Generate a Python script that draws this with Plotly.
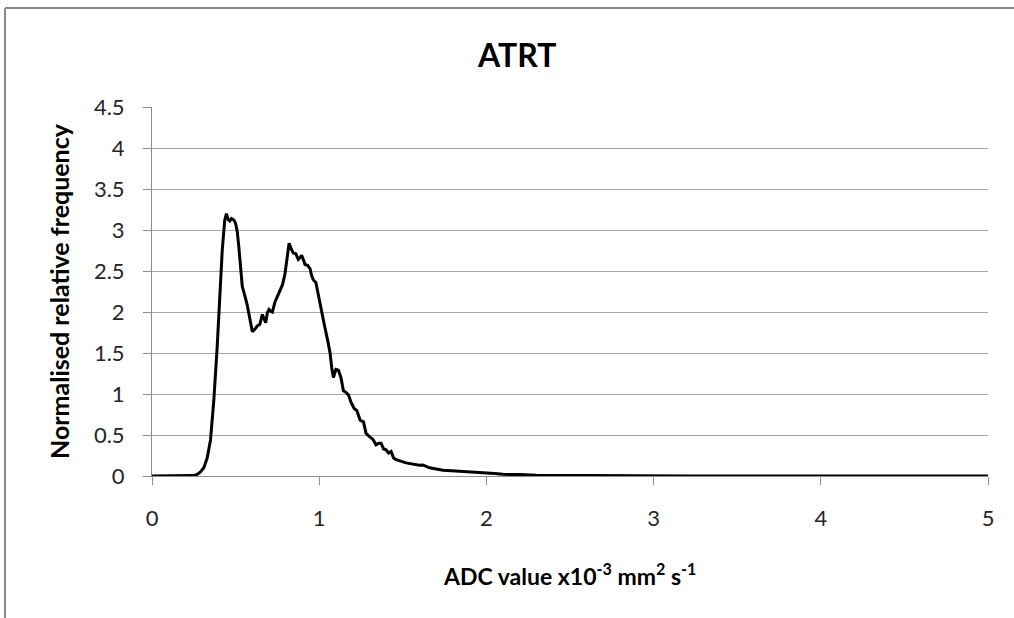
import plotly.graph_objects as go

# ADC histogram (normalised relative frequency) for ATRT
adc_values = [0, 0.05, 0.1, 0.15, 0.2, 0.25, 0.27, 0.29, 0.31, 0.33, 0.35, 0.37, 0.39, 0.41, 0.42,
              0.435, 0.445, 0.455, 0.465, 0.475, 0.49, 0.5, 0.51, 0.52, 0.54, 0.555, 0.57, 0.585,
              0.60, 0.615, 0.63, 0.645, 0.66, 0.67, 0.68, 0.69, 0.70, 0.71, 0.72, 0.735, 0.75,
              0.765, 0.78, 0.795, 0.81, 0.82, 0.83, 0.845, 0.86, 0.875, 0.885, 0.895, 0.905,
              0.915, 0.93, 0.945, 0.955, 0.965, 0.98, 0.995, 1.01, 1.03, 1.05, 1.065, 1.075,
              1.085, 1.10, 1.115, 1.13, 1.145, 1.16, 1.175, 1.19, 1.21, 1.225, 1.245, 1.265,
              1.28, 1.30, 1.32, 1.34, 1.355, 1.37, 1.385, 1.40, 1.415, 1.43, 1.445, 1.46, 1.49,
              1.52, 1.56, 1.60, 1.62, 1.66, 1.70, 1.74, 1.79, 1.84, 1.9, 1.95, 2.0, 2.05, 2.1,
              2.15, 2.2, 2.3, 2.4, 2.5, 2.6, 2.7, 2.8, 2.9, 3.0, 3.2, 3.5, 4.0, 4.5, 5.0]
frequency = [0, 0, 0, 0, 0, 0.005, 0.02, 0.05, 0.10, 0.22, 0.44, 0.93, 1.58, 2.31, 2.75,
             3.12, 3.20, 3.13, 3.11, 3.14, 3.12, 3.08, 2.98, 2.78, 2.31, 2.20, 2.08, 1.92,
             1.76, 1.79, 1.83, 1.85, 1.97, 1.92, 1.87, 1.99, 2.03, 2.01, 2.00, 2.12, 2.19,
             2.26, 2.33, 2.46, 2.68, 2.84, 2.78, 2.72, 2.71, 2.64, 2.66, 2.69, 2.64,
             2.58, 2.57, 2.53, 2.44, 2.39, 2.36, 2.20, 2.02, 1.85, 1.66, 1.50, 1.32,
             1.20, 1.30, 1.29, 1.20, 1.04, 1.02, 0.99, 0.90, 0.82, 0.80, 0.68, 0.66,
             0.52, 0.48, 0.45, 0.38, 0.40, 0.40, 0.33, 0.32, 0.28, 0.30, 0.22, 0.20, 0.18,
             0.16, 0.145, 0.13, 0.135, 0.10, 0.085, 0.07, 0.065, 0.06, 0.05, 0.045, 0.04, 0.03, 0.02,
             0.015, 0.018, 0.01, 0.008, 0.006, 0.005, 0.004, 0.004, 0.003, 0.002, 0, 0, 0, 0, 0]

x_ticks = [0, 1, 2, 3, 4, 5]
y_ticks = [0, 0.5, 1, 1.5, 2, 2.5, 3, 3.5, 4, 4.5]
y_tick_text = ["0", "0.5", "1", "1.5", "2", "2.5", "3", "3.5", "4", "4.5"]

FONT = "Lato, Carlito, Calibri, sans-serif"
W, H = 1014, 618
L, R, T, B = 152, 26, 107, 142
pw, ph = W - L - R, H - T - B


def px_x(p):
    return (p - L) / pw


def px_y(p):
    return (H - B - p) / ph


fig = go.Figure()
fig.add_trace(go.Scatter(
    x=adc_values, y=frequency, mode="lines",
    line=dict(color="black", width=3), showlegend=False, hoverinfo="skip",
))

axis_common = dict(
    showline=True, linecolor="#8c8c8c", linewidth=1,
    ticks="outside", tickcolor="#8c8c8c", ticklen=8, tickwidth=1,
    tickfont=dict(family=FONT, size=22, color="#262626"),
    zeroline=False,
)

# chart-area frame: top and left edges
frame = dict(color="#8a8a8a", width=2)

fig.update_layout(
    width=W, height=H,
    margin=dict(l=L, r=R, t=T, b=B, pad=0),
    paper_bgcolor="white", plot_bgcolor="white",
    xaxis=dict(range=[0, 5], tickvals=x_ticks, showgrid=False,
               ticklabelstandoff=15, **axis_common),
    yaxis=dict(range=[0, 4.5], tickvals=y_ticks, ticktext=y_tick_text,
               showgrid=True, gridcolor="#a6a6a6", gridwidth=1,
               ticklabelstandoff=14, **axis_common),
    shapes=[
        dict(type="line", xref="paper", yref="paper",
             x0=px_x(5), x1=px_x(1014), y0=px_y(8), y1=px_y(8), line=frame),
        dict(type="line", xref="paper", yref="paper",
             x0=px_x(5), x1=px_x(5), y0=px_y(8), y1=px_y(618), line=frame),
    ],
    annotations=[
        dict(text="<b>ATRT</b>", x=px_x(516), y=px_y(54), xref="paper", yref="paper",
             showarrow=False, xanchor="center", yanchor="middle",
             font=dict(family=FONT, size=32, color="black")),
        dict(text="<b>ADC value x10<sup>-3</sup> mm<sup>2</sup> s<sup>-1</sup></b>",
             x=px_x(569), y=px_y(574), xref="paper", yref="paper",
             showarrow=False, xanchor="center", yanchor="middle",
             font=dict(family=FONT, size=23, color="black")),
        dict(text="<b>Normalised relative frequency</b>", textangle=-90,
             x=px_x(59), y=px_y(291), xref="paper", yref="paper",
             showarrow=False, xanchor="center", yanchor="middle",
             font=dict(family=FONT, size=25, color="black")),
    ],
)

fig.write_html("out.html")
